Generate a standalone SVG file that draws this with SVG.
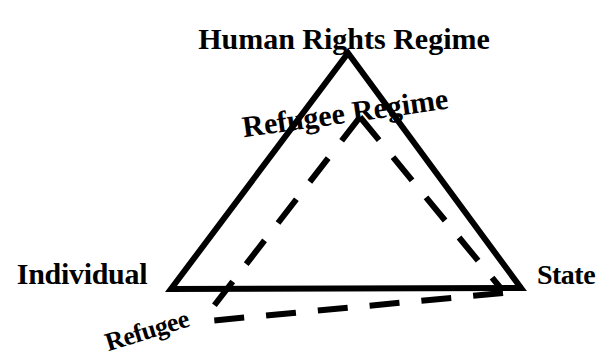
<svg xmlns="http://www.w3.org/2000/svg" width="601" height="358" viewBox="0 0 601 358">
<style>
.lbl{font-family:"Liberation Serif","Times New Roman",serif;font-weight:bold;fill:#000;}
.solid{fill:none;stroke:#000;stroke-width:6;stroke-linejoin:miter;}
.dash{fill:none;stroke:#000;stroke-width:6;stroke-dasharray:30 22;}
</style>
<rect width="601" height="358" fill="#fff"/>
<g id="connectors">
<polygon class="solid" points="348,53 171,289 521,288"/>
<path class="dash" d="M360,117 L503,291"/>
<path class="dash" d="M360,117 L203,320"/>
<path class="dash" d="M503,293 L208,321"/>
</g>
<g id="human-rights-regime"><text class="lbl" x="344" y="49" font-size="30" text-anchor="middle" letter-spacing="0">Human Rights Regime</text></g>
<g id="refugee-regime"><text class="lbl" x="345" y="123" font-size="30" text-anchor="middle" letter-spacing="0" transform="rotate(-8 345 113)">Refugee Regime</text></g>
<g id="individual"><text class="lbl" x="82" y="284" font-size="30" text-anchor="middle" letter-spacing="-0.3">Individual</text></g>
<g id="state"><text class="lbl" x="566" y="284" font-size="28" text-anchor="middle" letter-spacing="-0.5">State</text></g>
<g id="refugee"><text class="lbl" x="147" y="339" font-size="26" text-anchor="middle" letter-spacing="-0.5" transform="rotate(-17 147 331)">Refugee</text></g>
</svg>
